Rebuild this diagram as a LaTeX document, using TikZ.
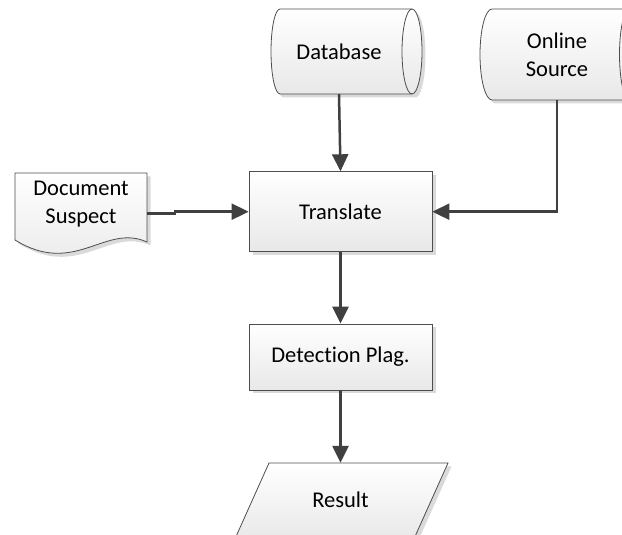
\documentclass[tikz,border=0pt]{standalone}
\usepackage{fontspec}
\setmainfont[Ligatures={NoCommon}]{Carlito}
\usetikzlibrary{arrows.meta,shadows}
\definecolor{bordercol}{HTML}{4D4D4D}
\definecolor{linecol}{HTML}{404040}
\definecolor{fillbot}{HTML}{E8E8E8}
\definecolor{shadowcol}{HTML}{DADADA}
\tikzset{
  shapefill/.style={draw=bordercol, line width=0.8pt, top color=white, bottom color=fillbot,
    drop shadow={shadow xshift=3.5pt, shadow yshift=-3.5pt, fill=shadowcol, opacity=1}},
  box/.style={shapefill, rectangle, minimum width=183pt, inner sep=0pt,
    font=\fontsize{22.5}{28}\selectfont, align=center},
  txt/.style={inner sep=0pt, font=\fontsize{22.5}{28}\selectfont, align=center},
  conn/.style={draw=linecol, line width=2.5pt, -{Triangle[length=17pt,width=16pt]}}
}
\begin{document}
\begin{tikzpicture}[x=1pt,y=1pt]
\useasboundingbox (0,0) rectangle (622,535);
\clip (0,0) rectangle (622,535);
% Database cylinder
\path[shapefill] (280,526) -- (412,526) arc[start angle=90,end angle=-90,x radius=10,y radius=42.5]
  -- (280,441) arc[start angle=-90,end angle=-270,x radius=9,y radius=42.5] -- cycle;
\draw[draw=bordercol, line width=0.8pt] (412,526) arc[start angle=90,end angle=270,x radius=10,y radius=42.5];
\node[txt, minimum width=130pt, minimum height=85pt] (db) at (339,483.5) {Database};
% Online Source cylinder
\path[shapefill] (492,526) -- (629.5,526) arc[start angle=90,end angle=-90,x radius=10,y radius=45.5]
  -- (492,435) arc[start angle=-90,end angle=-270,x radius=12,y radius=45.5] -- cycle;
\draw[draw=bordercol, line width=0.8pt] (629.5,526) arc[start angle=90,end angle=270,x radius=10,y radius=45.5];
\node[txt, minimum width=120pt, minimum height=91pt] (os) at (557,480.5) {Online\\Source};
% Document shape
\path[shapefill] (15,362) -- (147,362) -- (147,293)
  .. controls (105,312) and (75,258) .. (15,295) -- cycle;
\node[minimum width=132pt, minimum height=80pt, inner sep=0pt] (doc) at (81,321.5) {};
\node[txt] (doctext) at (81,331) {Document\\Suspect};
% Boxes
\node[box, minimum height=80pt] (tr) at (340.5,323.3) {Translate};
\node[box, minimum height=66pt] (det) at (340.5,178) {Detection Plag.};
% Result parallelogram
\path[shapefill] (269,72) -- (448,72) -- (413,-6) -- (234,-6) -- cycle;
\node[txt, minimum width=150pt, minimum height=74pt] (res) at (340.5,35) {Result};
% Connectors
\draw[conn] (db.south) -- (tr.north);
\draw[conn] (os.south) |- (tr.east);
\draw[conn] (doc.east) -- ++(28,0) |- (tr.west);
\draw[conn] (tr.south) -- (det.north);
\draw[conn] (det.south) -- (res.north);
\end{tikzpicture}
\end{document}
